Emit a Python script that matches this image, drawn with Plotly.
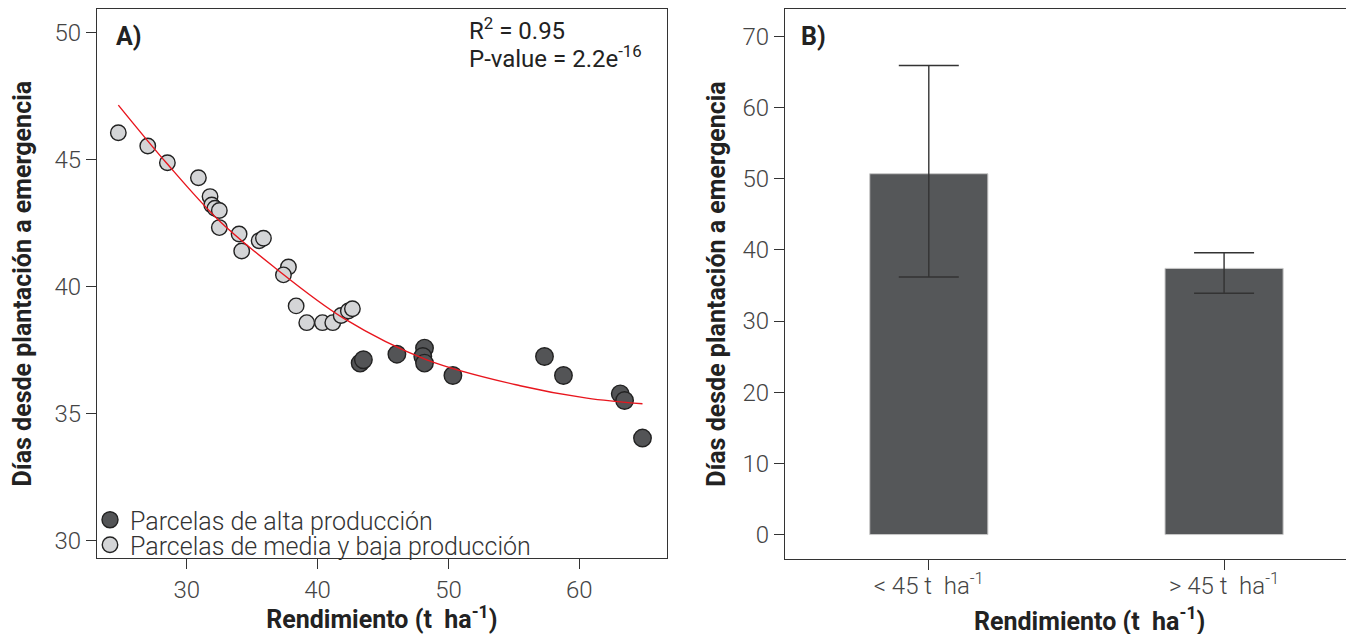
import plotly.graph_objects as go

# ---------------- data ----------------
# Panel A: scatter (Rendimiento t/ha vs días)
low_x = [24.77, 27.02, 28.52, 30.89, 31.78, 31.91, 32.16, 32.49, 32.49, 34.0, 34.2,
         35.53, 35.86, 37.77, 37.39, 38.36, 39.17, 40.37, 41.16, 41.80, 42.35, 42.66]
low_y = [46.05, 45.53, 44.87, 44.28, 43.54, 43.21, 43.08, 42.99, 42.32, 42.07, 41.40,
         41.80, 41.90, 40.77, 40.46, 39.24, 38.58, 38.58, 38.58, 38.86, 39.04, 39.13]
high_x = [43.25, 43.50, 46.06, 48.17, 48.04, 48.17, 50.34, 57.34, 58.79, 63.13, 63.46, 64.83]
high_y = [36.99, 37.12, 37.34, 37.58, 37.25, 36.99, 36.50, 37.25, 36.50, 35.78, 35.52, 34.04]

# fitted regression curve
curve_x = [24.77, 28.47, 32.42, 36.62, 41.97, 48.35, 55.48, 60.58, 64.83]
curve_y = [47.14, 44.85, 42.62, 40.79, 38.76, 37.12, 36.10, 35.61, 35.39]

# Panel B: bars
categories = ["&lt; 45 t  ha<sup>-1</sup>", "&gt; 45 t  ha<sup>-1</sup>"]
bar_values = [50.7, 37.4]
err_plus = [15.2, 2.2]
err_minus = [14.5, 3.5]

xticks_A = [30, 40, 50, 60]
yticks_A = [30, 35, 40, 45, 50]
yticks_B = [0, 10, 20, 30, 40, 50, 60, 70]

# ---------------- layout helpers (page pixels; page body has an 8px margin) ----------------
OFF = 8
W, H = 1354 - OFF, 634 - OFF
L, R, T, B = 40, 0, 0, 50
pw, ph = W - L - R, H - T - B


def dx(px):
    return min(1.0, (px - OFF - L) / pw)


def dy(py):
    return min(1.0, (H - B - (py - OFF)) / ph)


AX = "#333333"
FONT = "Roboto"
tick_font = dict(family=FONT, size=24, color="#444444", weight=300)
title_font = dict(family=FONT, size=25, color="#222222", weight="bold")

fig = go.Figure()

fig.add_trace(go.Scatter(
    x=high_x, y=high_y, mode="markers", name="Parcelas de alta producción",
    marker=dict(size=17.5, color="#535456", line=dict(color="#222222", width=1.4)),
    xaxis="x", yaxis="y", legend="legend"))
fig.add_trace(go.Scatter(
    x=low_x, y=low_y, mode="markers", name="Parcelas de media y baja producción",
    marker=dict(size=15.5, color="#d4d5d7", line=dict(color="#222222", width=1.4)),
    xaxis="x", yaxis="y", legend="legend2"))
fig.add_trace(go.Scatter(
    x=curve_x, y=curve_y, mode="lines", showlegend=False,
    line=dict(color="#e8161e", width=1.4, shape="spline", smoothing=1.0),
    xaxis="x", yaxis="y"))

fig.add_trace(go.Bar(
    x=[0, 1], y=bar_values, width=0.4, showlegend=False,
    marker=dict(color="#555759", line=dict(color="#c8c8c8", width=1)),
    error_y=dict(type="data", array=err_plus, arrayminus=err_minus, symmetric=False,
                 color="#333333", thickness=1.4, width=30),
    xaxis="x2", yaxis="y2"))

axis_common = dict(
    showline=True, linecolor=AX, linewidth=1.3,
    ticks="outside", ticklen=10, tickcolor=AX, tickwidth=1.2,
    showgrid=False, zeroline=False, tickfont=tick_font,
)

legend_common = dict(
    xanchor="left", yanchor="middle", bgcolor="rgba(0,0,0,0)",
    font=dict(family=FONT, size=25, color="#333333", weight=300),
    itemwidth=30, borderwidth=0,
)

fig.update_layout(
    width=W, height=H,
    margin=dict(l=L, r=R, t=T, b=B),
    paper_bgcolor="white", plot_bgcolor="white",
    font=dict(family=FONT, color="#333333"),
    xaxis=dict(domain=[dx(97), dx(666.7)], range=[23.14, 66.68], tickvals=xticks_A,
               title=dict(text="Rendimiento (t  ha<sup>-1</sup>)", font=title_font, standoff=8),
               anchor="y", mirror=True, **axis_common),
    yaxis=dict(domain=[dy(558.3), dy(9)], range=[29.31, 50.92], tickvals=yticks_A,
               title=dict(text="Días desde plantación a emergencia", font=title_font, standoff=15),
               anchor="x", mirror=True, **axis_common),
    xaxis2=dict(domain=[dx(785), dx(1354)], range=[-0.487, 1.44], tickvals=[0, 1],
                ticktext=categories, anchor="y2", mirror=True, ticklabelstandoff=-5,
                **axis_common),
    yaxis2=dict(domain=[dy(559.2), dy(8.9)], range=[-3.46, 73.86], tickvals=yticks_B,
                title=dict(text="Días desde plantación a emergencia", font=title_font, standoff=9),
                anchor="x2", mirror=False, **axis_common),
    legend=dict(x=dx(90), y=dy(520), **legend_common),
    legend2=dict(x=dx(90), y=dy(545), **legend_common),
    annotations=[
        dict(text="<b>A)</b>", x=dx(114), y=dy(37), xref="paper", yref="paper",
             xanchor="left", yanchor="middle", showarrow=False,
             font=dict(family=FONT, size=25, color="#222222")),
        dict(text="<b>B)</b>", x=dx(799), y=dy(37), xref="paper", yref="paper",
             xanchor="left", yanchor="middle", showarrow=False,
             font=dict(family=FONT, size=25, color="#222222")),
        dict(text="R<sup>2</sup> = 0.95", x=dx(467), y=dy(29), xref="paper", yref="paper",
             xanchor="left", yanchor="middle", showarrow=False,
             font=dict(family=FONT, size=24, color="#222222")),
        dict(text="P-value = 2.2e<sup>-16</sup>", x=dx(467), y=dy(57), xref="paper", yref="paper",
             xanchor="left", yanchor="middle", showarrow=False,
             font=dict(family=FONT, size=24, color="#222222")),
        dict(text="Rendimiento (t  ha<sup>-1</sup>)", x=dx(1089), y=dy(619), xref="paper",
             yref="paper", xanchor="center", yanchor="middle", showarrow=False,
             font=title_font),
    ],
)

fig.write_html("out.html")
